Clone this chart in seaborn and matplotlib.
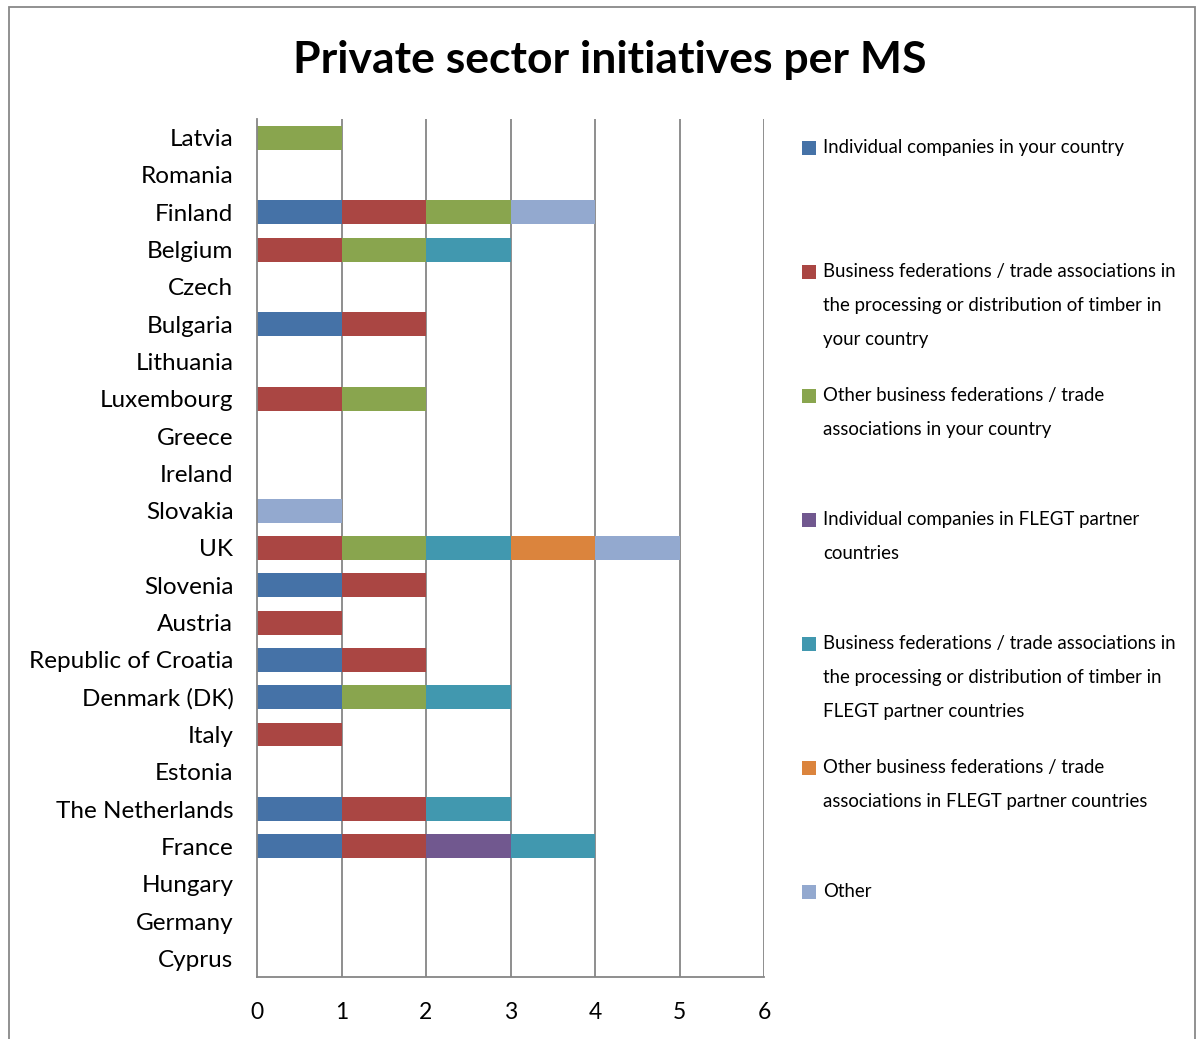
import matplotlib.pyplot as plt
import pandas as pd
import seaborn as sns
from matplotlib.patches import Rectangle

countries = [
    "Latvia", "Romania", "Finland", "Belgium", "Czech", "Bulgaria", "Lithuania",
    "Luxembourg", "Greece", "Ireland", "Slovakia", "UK", "Slovenia", "Austria",
    "Republic of Croatia", "Denmark (DK)", "Italy", "Estonia", "The Netherlands",
    "France", "Hungary", "Germany", "Cyprus",
]

series = [
    "Individual companies in your country",
    "Business federations / trade associations in\nthe processing or distribution of timber in\nyour country",
    "Other business federations / trade\nassociations in your country",
    "Individual companies in FLEGT partner\ncountries",
    "Business federations / trade associations in\nthe processing or distribution of timber in\nFLEGT partner countries",
    "Other business federations / trade\nassociations in FLEGT partner countries",
    "Other",
]
colors = ["#4572A7", "#AA4643", "#89A54E", "#71588F", "#4198AF", "#DB843D", "#93A9CF"]

# counts per country, one list per series (order as countries)
individual_own = [0, 0, 1, 0, 0, 1, 0, 0, 0, 0, 0, 0, 1, 0, 1, 1, 0, 0, 1, 1, 0, 0, 0]
federations_own = [0, 0, 1, 1, 0, 1, 0, 1, 0, 0, 0, 1, 1, 1, 1, 0, 1, 0, 1, 1, 0, 0, 0]
other_fed_own = [1, 0, 1, 1, 0, 0, 0, 1, 0, 0, 0, 1, 0, 0, 0, 1, 0, 0, 0, 0, 0, 0, 0]
individual_flegt = [0, 0, 0, 0, 0, 0, 0, 0, 0, 0, 0, 0, 0, 0, 0, 0, 0, 0, 0, 1, 0, 0, 0]
federations_flegt = [0, 0, 0, 1, 0, 0, 0, 0, 0, 0, 0, 1, 0, 0, 0, 1, 0, 0, 1, 1, 0, 0, 0]
other_fed_flegt = [0, 0, 0, 0, 0, 0, 0, 0, 0, 0, 0, 1, 0, 0, 0, 0, 0, 0, 0, 0, 0, 0, 0]
other = [0, 0, 1, 0, 0, 0, 0, 0, 0, 0, 1, 1, 0, 0, 0, 0, 0, 0, 0, 0, 0, 0, 0]

values = [individual_own, federations_own, other_fed_own, individual_flegt,
          federations_flegt, other_fed_flegt, other]

df = pd.DataFrame({name: vals for name, vals in zip(series, values)}, index=countries)
cum = df.cumsum(axis=1)

sns.set_theme(style="white")
plt.rcParams["font.family"] = ["Lato", "DejaVu Sans"]
plt.rcParams["text.color"] = "black"

fig = plt.figure(figsize=(12.04, 10.39), dpi=100)
ax = fig.add_axes([257 / 1204, 1 - 977 / 1039, (764 - 257) / 1204, (977 - 119) / 1039])

# stacked bars: draw cumulative totals back to front
for name, color in reversed(list(zip(series, colors))):
    sns.barplot(x=cum[name].values, y=countries, order=countries, orient="h",
                color=color, width=0.64, saturation=1, ax=ax, linewidth=0)

ax.set_xlim(0, 6)
ax.set_ylim(len(countries) - 0.5, -0.5)
ax.set_xticks(range(7))
for x in range(1, 7):
    ax.axvline(x, color="#868686", linewidth=1.3, zorder=0)
for s in ["top", "right"]:
    ax.spines[s].set_visible(False)
for s in ["left", "bottom"]:
    ax.spines[s].set_color("#868686")
    ax.spines[s].set_linewidth(1.3)
ax.tick_params(axis="x", length=0, labelsize=16.5, colors="black", pad=18)
ax.tick_params(axis="y", length=0, labelsize=17.5, colors="black", pad=17)
ax.set_xlabel("")
ax.set_ylabel("")

fig.text(610 / 1204, 1 - 60 / 1039, "Private sector initiatives per MS",
         ha="center", va="center", fontsize=32, fontweight="bold", color="black")

# legend entries
for i, (name, color) in enumerate(zip(series, colors)):
    ytop = 1 - (148 + 124 * i) / 1039
    fig.patches.append(Rectangle((802 / 1204, ytop - 7 / 1039), 14 / 1204, 14 / 1039,
                                 transform=fig.transFigure, facecolor=color,
                                 edgecolor="none"))
    fig.text(823 / 1204, ytop + 9 / 1039, name, ha="left", va="top",
             fontsize=13.4, linespacing=2.2, color="black")

fig.patches.append(Rectangle((9 / 1204, -0.05), 1186 / 1204, 1.05 - 7 / 1039,
                             transform=fig.transFigure, facecolor="none",
                             edgecolor="#888888", linewidth=1.3))

fig.savefig("out.png", dpi=100)
